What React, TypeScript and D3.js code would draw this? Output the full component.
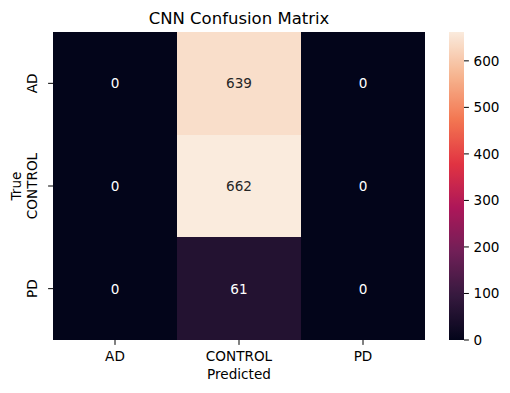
import React from "react";
import * as d3 from "d3";

const predictedLabels = ["AD", "CONTROL", "PD"];
const trueLabels = ["AD", "CONTROL", "PD"];
const matrix = [
  [0, 639, 0],
  [0, 662, 0],
  [0, 61, 0],
];
const colorbarTicks = [0, 100, 200, 300, 400, 500, 600];
const rocketStops = ["#03051a", "#35193e", "#701f57", "#ad1759", "#e13342", "#f37651", "#f6b48f", "#faebdd"];

const W = 510, H = 393;
const left = 53, right = 425, top = 32, bottom = 340;
const cbLeft = 449, cbRight = 464;
const FONT = "DejaVu Sans, sans-serif";
const FS = 13.6;

export default function App() {
  const vmax = d3.max(matrix.flat()) as number;
  const vmin = d3.min(matrix.flat()) as number;
  const rocket = d3.scaleLinear<string>()
    .domain(rocketStops.map((_, i) => i / (rocketStops.length - 1)))
    .range(rocketStops)
    .interpolate(d3.interpolateRgb);
  const color = (v: number) => rocket((v - vmin) / (vmax - vmin));
  const x = d3.scaleBand().domain(predictedLabels).range([left, right]);
  const y = d3.scaleBand().domain(trueLabels).range([top, bottom]);
  const cy = d3.scaleLinear().domain([vmin, vmax]).range([bottom, top]);
  const gradStops = d3.range(0, 101).map((i) => i / 100);

  return (
    <svg width={W} height={H} style={{ position: "absolute", left: 0, top: 0, background: "#fff" }} fontFamily={FONT}>
      <defs>
        <linearGradient id="cb" x1="0" y1="1" x2="0" y2="0">
          {gradStops.map((t) => (
            <stop key={t} offset={t} stopColor={rocket(t)} />
          ))}
        </linearGradient>
      </defs>
      <text x={(left + right) / 2} y={24} textAnchor="middle" fontSize={16.5} fill="#000">CNN Confusion Matrix</text>
      {matrix.map((row, i) =>
        row.map((v, j) => {
          const fill = color(v);
          const textColor = (v - vmin) / (vmax - vmin) > 0.6 ? "#262626" : "#ffffff";
          return (
            <g key={`${i}-${j}`}>
              <rect
                x={Math.round(x(predictedLabels[j]) as number)}
                y={Math.round(y(trueLabels[i]) as number)}
                width={Math.round((x(predictedLabels[j]) as number) + x.bandwidth()) - Math.round(x(predictedLabels[j]) as number)}
                height={Math.round((y(trueLabels[i]) as number) + y.bandwidth()) - Math.round(y(trueLabels[i]) as number)}
                fill={fill}
                shapeRendering="crispEdges"
              />
              <text
                x={(x(predictedLabels[j]) as number) + x.bandwidth() / 2}
                y={(y(trueLabels[i]) as number) + y.bandwidth() / 2}
                textAnchor="middle"
                dominantBaseline="central"
                fontSize={FS}
                fill={textColor}
              >
                {v}
              </text>
            </g>
          );
        })
      )}
      {predictedLabels.map((l) => {
        const cx = (x(l) as number) + x.bandwidth() / 2;
        return (
          <g key={l}>
            <line x1={cx} x2={cx} y1={bottom} y2={bottom + 4.9} stroke="#000" strokeWidth={1} />
            <text x={cx} y={361} textAnchor="middle" fontSize={FS} fill="#000">{l}</text>
          </g>
        );
      })}
      <text x={(left + right) / 2} y={379} textAnchor="middle" fontSize={FS} fill="#000">Predicted</text>
      {trueLabels.map((l) => {
        const c = (y(l) as number) + y.bandwidth() / 2;
        return (
          <g key={l}>
            <line x1={left - 4.9} x2={left} y1={c} y2={c} stroke="#000" strokeWidth={1} />
            <text transform={`translate(${37},${c}) rotate(-90)`} textAnchor="middle" fontSize={FS} fill="#000">{l}</text>
          </g>
        );
      })}
      <text transform={`translate(${20.5},${(top + bottom) / 2}) rotate(-90)`} textAnchor="middle" fontSize={FS} fill="#000">True</text>
      <rect x={cbLeft} y={top} width={cbRight - cbLeft} height={bottom - top} fill="url(#cb)" />
      {colorbarTicks.map((t) => (
        <g key={t}>
          <line x1={cbRight} x2={cbRight + 4.9} y1={cy(t)} y2={cy(t)} stroke="#000" strokeWidth={1} />
          <text x={cbRight + 9.5} y={cy(t)} dominantBaseline="central" fontSize={FS} fill="#000">{t}</text>
        </g>
      ))}
    </svg>
  );
}
